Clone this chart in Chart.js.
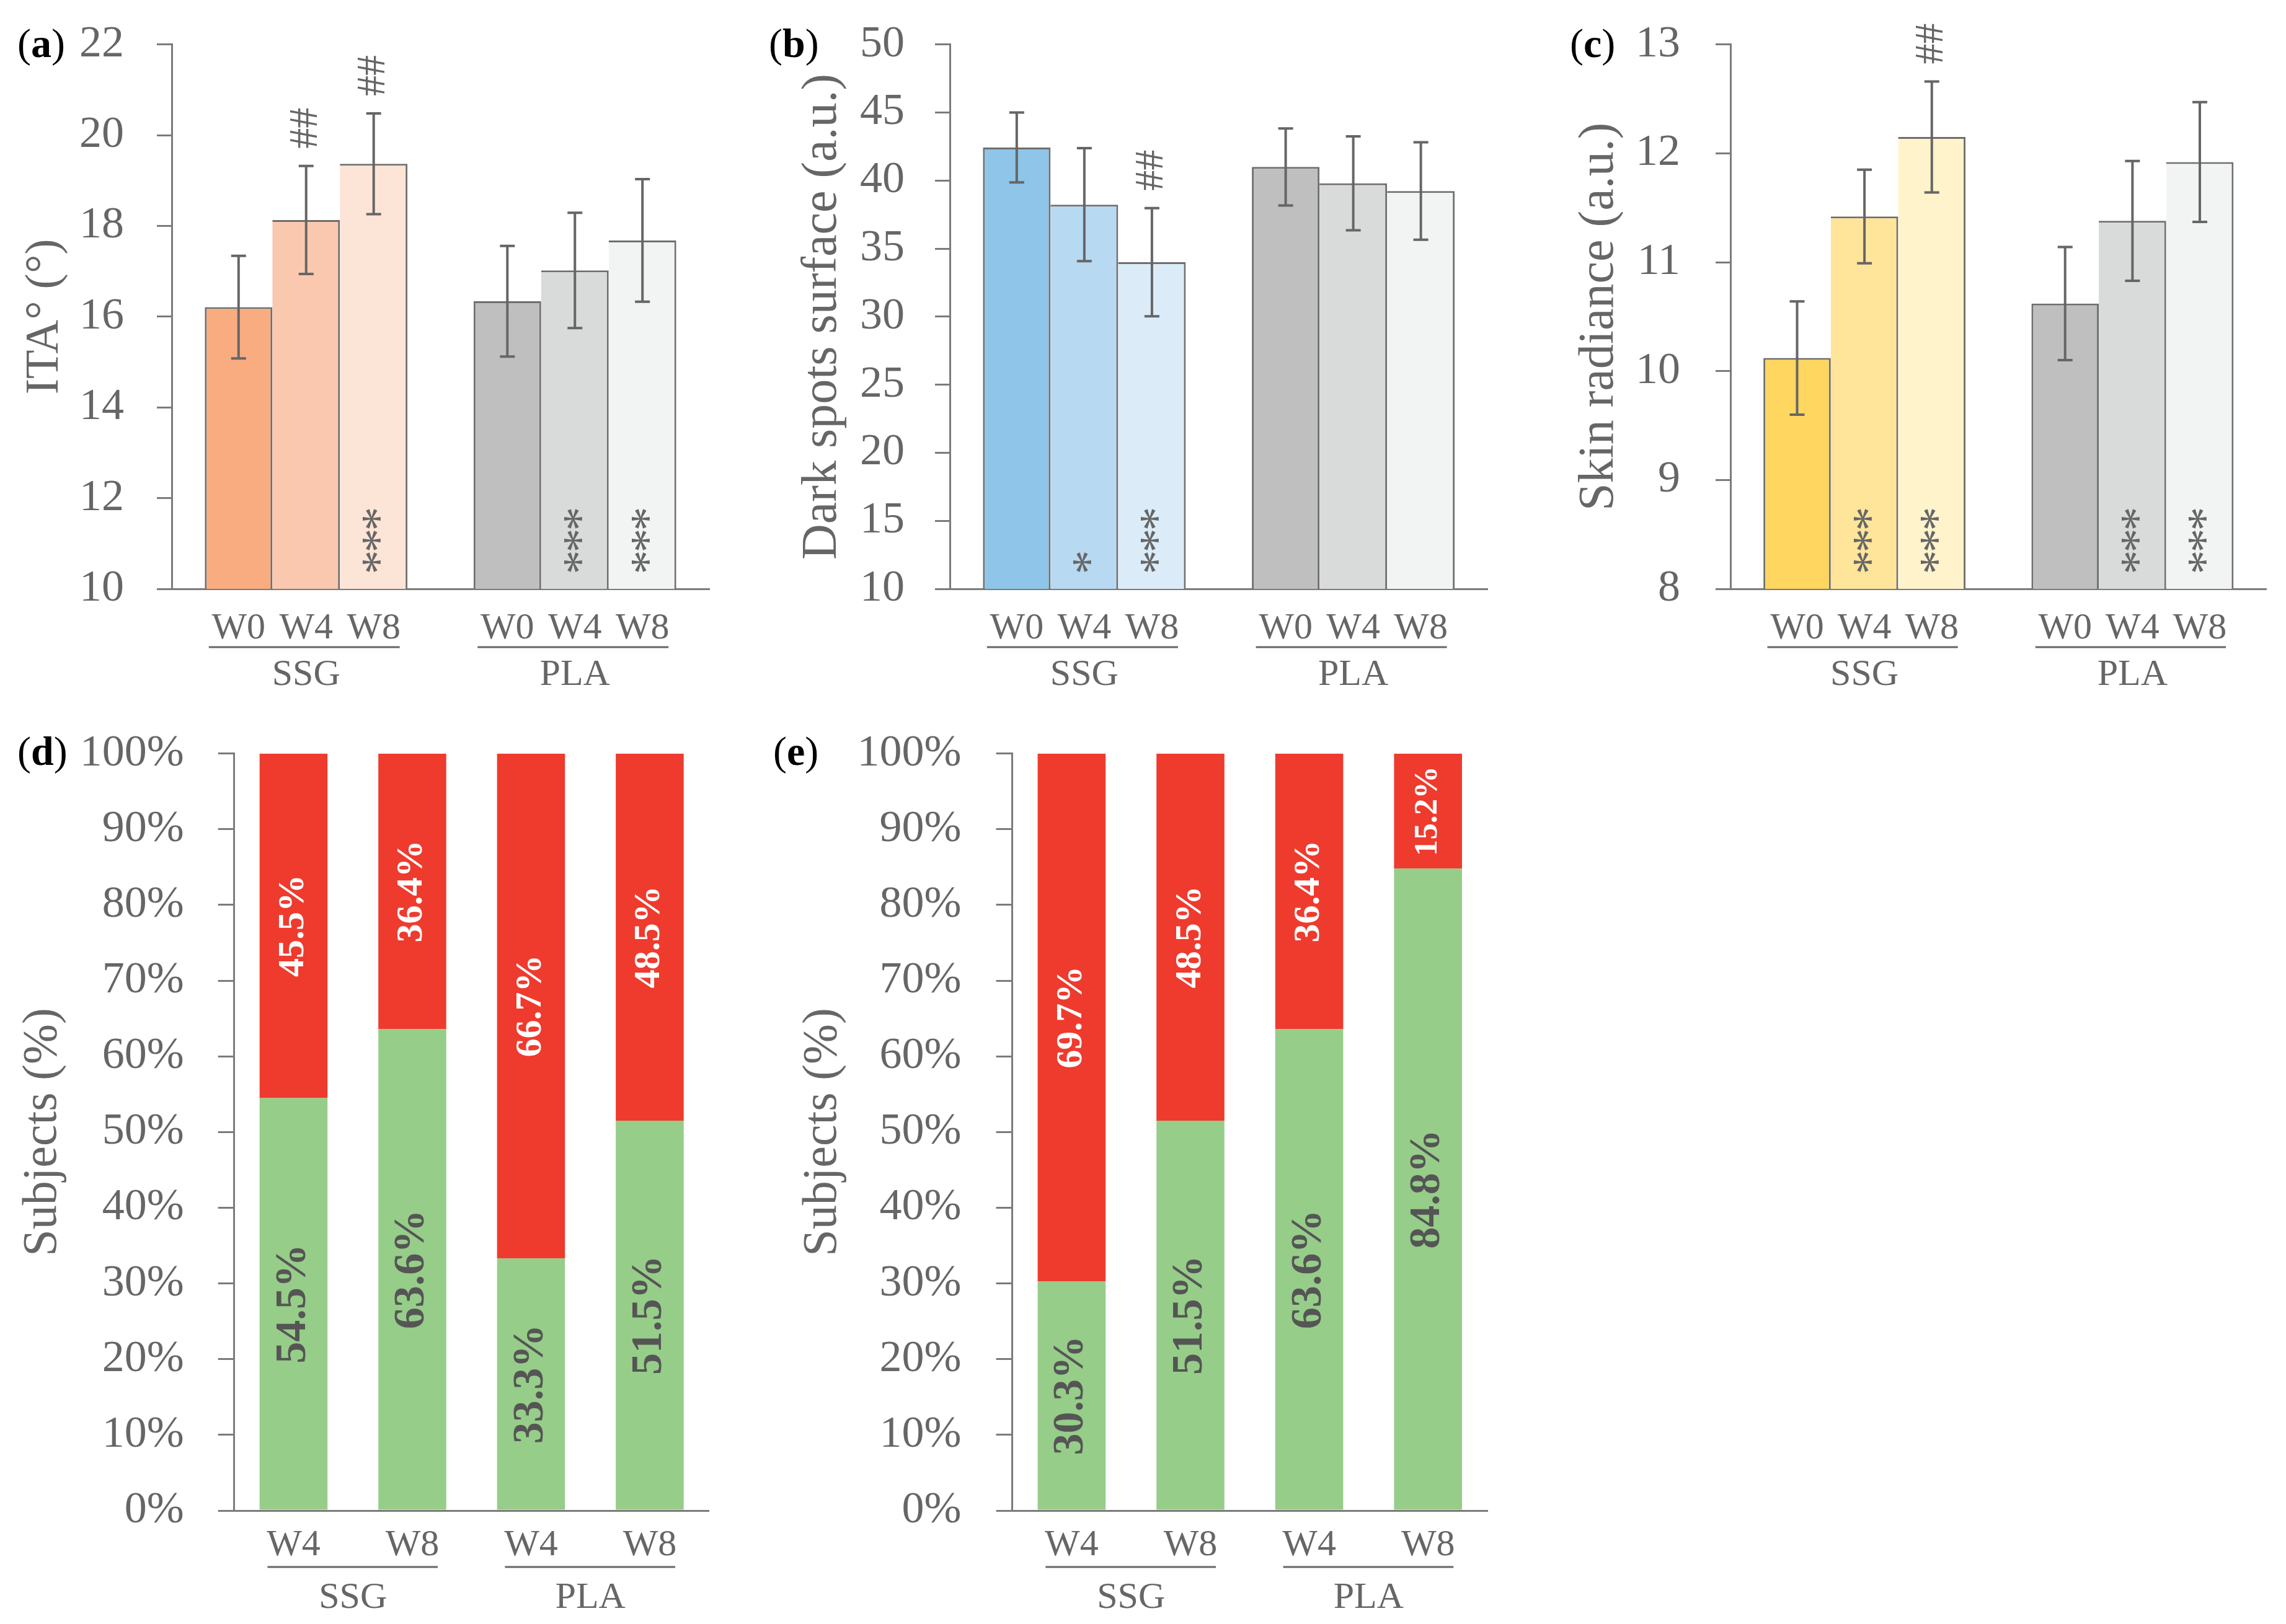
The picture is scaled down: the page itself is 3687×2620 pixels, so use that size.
<!DOCTYPE html>
<html><head><meta charset="utf-8">
<script src="https://cdn.jsdelivr.net/npm/chart.js@4.4.1/dist/chart.umd.min.js"></script>
<style>
html,body{margin:0;padding:0;background:#fff;}
#page{position:relative;width:3687px;height:2620px;background:#fff;overflow:hidden;}
canvas{position:absolute;}
</style></head><body><div id="page">
<canvas id="ca"></canvas><canvas id="cb"></canvas><canvas id="cc"></canvas>
<canvas id="cd"></canvas><canvas id="ce"></canvas>
</div>
<script>
// ---------- DATA ----------
const groups = ['SSG', 'PLA'];
const weeksTop = ['W0', 'W4', 'W8'];
const weeksBottom = ['W4', 'W8', 'W4', 'W8'];

// (a) ITA°
const itaSSG = [16.21, 18.13, 19.37];
const itaSSGErr = [1.13, 1.19, 1.11];
const itaPLA = [16.34, 17.02, 17.68];
const itaPLAErr = [1.22, 1.27, 1.35];
const itaTicks = { min: 10, max: 22, step: 2 };
const itaStarsSSG = ['', '', '***'];
const itaStarsPLA = ['', '***', '***'];
const itaHashSSG = ['', '##', '##'];

// (b) Dark spots surface
const spotSSG = [42.43, 38.23, 34.0];
const spotSSGErr = [2.57, 4.15, 3.97];
const spotPLA = [41.0, 39.8, 39.23];
const spotPLAErr = [2.83, 3.45, 3.58];
const spotTicks = { min: 10, max: 50, step: 5 };
const spotStarsSSG = ['', '*', '***'];
const spotStarsPLA = ['', '', ''];
const spotHashSSG = ['', '', '##'];

// (c) Skin radiance
const radSSG = [10.12, 11.42, 12.15];
const radSSGErr = [0.52, 0.43, 0.51];
const radPLA = [10.62, 11.38, 11.92];
const radPLAErr = [0.52, 0.55, 0.55];
const radTicks = { min: 8, max: 13, step: 1 };
const radStarsSSG = ['', '***', '***'];
const radStarsPLA = ['', '***', '***'];
const radHashSSG = ['', '', '##'];

// (d) and (e) subjects (%)
const dGreen = [54.5, 63.6, 33.3, 51.5];
const dRed = [45.5, 36.4, 66.7, 48.5];
const eGreen = [30.3, 51.5, 63.6, 84.8];
const eRed = [69.7, 48.5, 36.4, 15.2];

// ---------- STYLE ----------
const FONT = "'Liberation Serif', 'Times New Roman', serif";
const TXT = '#666666';
const AX = '#7b7b7b';
const BORDER = '#6e6e6e';
const PLA_COLORS = ['#BFBFBF', '#D9DADA', '#F2F3F3'];
const RED = '#EE3B2E';
const GREEN = '#96CD89';

function place(id, left, top, w, h) {
  const c = document.getElementById(id);
  c.style.left = left + 'px'; c.style.top = top + 'px';
  c.style.width = w + 'px'; c.style.height = h + 'px';
  c.width = w; c.height = h;
  return c;
}

function drawPanelLabel(ctx, letter, x, y) {
  ctx.save();
  ctx.fillStyle = '#000'; ctx.textBaseline = 'alphabetic'; ctx.textAlign = 'left';
  ctx.font = `66px ${FONT}`;
  ctx.fillText('(', x, y);
  let w = ctx.measureText('(').width;
  ctx.font = `bold 66px ${FONT}`;
  ctx.fillText(letter, x + w, y);
  w += ctx.measureText(letter).width;
  ctx.font = `66px ${FONT}`;
  ctx.fillText(')', x + w, y);
  ctx.restore();
}

function rotText(ctx, text, x, y, font, color, align, baseline) {
  ctx.save();
  ctx.translate(x, y);
  ctx.rotate(-Math.PI / 2);
  ctx.font = font; ctx.fillStyle = color;
  ctx.textAlign = align; ctx.textBaseline = baseline;
  ctx.fillText(text, 0, 0);
  ctx.restore();
}

function yAxisOpts(t, pad, titleText, titleSize, titlePad, leftW, tickLen, cb) {
  return {
    min: t.min, max: t.max,
    ticks: { stepSize: t.step, font: { family: FONT, size: 72 }, color: TXT, padding: pad,
             callback: cb || ((v) => v) },
    grid: { drawOnChartArea: false, drawTicks: true, tickLength: tickLen, color: AX, lineWidth: 3 },
    border: { display: true, color: AX, width: 3 },
    title: { display: true, text: titleText, color: TXT,
             font: { family: FONT, size: titleSize, lineHeight: 1.2 },
             padding: { top: titlePad, bottom: 0 } },
    afterFit: (s) => { s.width = leftW; s.paddingTop = 0; s.paddingBottom = 0; }
  };
}

function topChart(o) {
  const W = o.w, H = o.h;
  const canvas = place(o.id, o.left, o.top, W, H);
  const area = { left: o.areaL - o.left, right: o.areaR - o.left, top: o.areaT - o.top, bottom: o.areaB - o.top };
  const datasets = weeksTop.map((wk, k) => ({
    label: wk,
    data: [o.ssg[k], o.pla[k]],
    errs: [o.ssgErr[k], o.plaErr[k]],
    stars: [o.starsSSG[k], o.starsPLA[k]],
    hashes: [o.hashSSG[k], ''],
    backgroundColor: [o.ssgColors[k], PLA_COLORS[k]],
    borderColor: BORDER,
    borderWidth: k === 0 ? { top: 3, left: 3, right: 3, bottom: 0 } : { top: 3, left: 0, right: 3, bottom: 0 },
    borderSkipped: false,
    barPercentage: 1,
    categoryPercentage: 0.754
  }));
  const plugin = {
    id: 'deco' + o.id,
    afterDatasetsDraw(chart) {
      const ctx = chart.ctx, ys = chart.scales.y, ca = chart.chartArea;
      chart.data.datasets.forEach((ds, i) => {
        const meta = chart.getDatasetMeta(i);
        meta.data.forEach((el, j) => {
          const v = ds.data[j], e = ds.errs[j];
          const yt = ys.getPixelForValue(v + e), yb = ys.getPixelForValue(v - e);
          ctx.save();
          ctx.strokeStyle = '#666'; ctx.lineWidth = 4; ctx.lineCap = 'butt';
          ctx.beginPath();
          ctx.moveTo(el.x, yt); ctx.lineTo(el.x, yb);
          ctx.moveTo(el.x - 12, yt); ctx.lineTo(el.x + 12, yt);
          ctx.moveTo(el.x - 12, yb); ctx.lineTo(el.x + 12, yb);
          ctx.stroke();
          ctx.restore();
          const st = ds.stars[j];
          for (let n = 0; n < st.length; n++) {
            rotText(ctx, '*', el.x + 13, ca.bottom - 43 - n * 35, `78px ${FONT}`, '#666', 'center', 'middle');
          }
          if (ds.hashes[j]) rotText(ctx, ds.hashes[j], el.x, yt - 28, `66px ${FONT}`, '#666', 'left', 'middle');
        });
      });
    },
    afterDraw(chart) {
      const ctx = chart.ctx, ca = chart.chartArea, xs = chart.scales.x;
      ctx.save();
      ctx.fillStyle = TXT; ctx.textAlign = 'center'; ctx.textBaseline = 'alphabetic';
      ctx.font = `60px ${FONT}`;
      const metas = chart.data.datasets.map((d, i) => chart.getDatasetMeta(i));
      groups.forEach((g, j) => {
        metas.forEach((m, i) => ctx.fillText(weeksTop[i], m.data[j].x, ca.bottom + 80));
        const x1 = metas[0].data[j].x, x2 = metas[2].data[j].x;
        ctx.strokeStyle = TXT; ctx.lineWidth = 3;
        ctx.beginPath(); ctx.moveTo(x1 - 48, ca.bottom + 94); ctx.lineTo(x2 + 42, ca.bottom + 94); ctx.stroke();
        ctx.fillText(g, xs.getPixelForValue(j), ca.bottom + 155);
      });
      ctx.restore();
      drawPanelLabel(ctx, o.letter, o.labelX - o.left, o.labelY - o.top);
    }
  };
  return new Chart(canvas, {
    type: 'bar',
    data: { labels: groups, datasets },
    options: {
      responsive: false, animation: false, devicePixelRatio: 1,
      layout: { padding: { left: 0, top: area.top, right: W - area.right, bottom: 0 } },
      plugins: { legend: { display: false }, tooltip: { enabled: false } },
      scales: {
        x: { type: 'category', offset: true, grid: { display: false },
             border: { display: true, color: AX, width: 3 }, ticks: { display: false },
             afterFit: (s) => { s.height = H - area.bottom; } },
        y: yAxisOpts(o.ticks, o.tickPad, o.title, o.titleSize, o.titlePad, area.left, 24)
      }
    },
    plugins: [plugin]
  });
}

function bottomChart(o) {
  const W = o.w, H = o.h;
  const canvas = place(o.id, o.left, o.top, W, H);
  const area = { left: o.areaL - o.left, right: o.areaR - o.left, top: o.areaT - o.top, bottom: o.areaB - o.top };
  const datasets = [
    { label: 'green', data: o.green, backgroundColor: GREEN, textColor: '#555555', lblSize: 70, barPercentage: 0.572, categoryPercentage: 1 },
    { label: 'red', data: o.red, backgroundColor: RED, textColor: '#ffffff', lblSize: 60, barPercentage: 0.572, categoryPercentage: 1 }
  ];
  const plugin = {
    id: 'deco' + o.id,
    afterDatasetsDraw(chart) {
      const ctx = chart.ctx;
      chart.data.datasets.forEach((ds, i) => {
        chart.getDatasetMeta(i).data.forEach((el, j) => {
          const segH = Math.abs(el.base - el.y);
          const size = Math.min(ds.lblSize, segH * 0.78 / 2.75);
          const cy = (el.y + el.base) / 2;
          rotText(ctx, ds.data[j].toFixed(1) + '%', el.x, cy, `bold ${size.toFixed(1)}px ${FONT}`, ds.textColor, 'center', 'middle');
        });
      });
    },
    afterDraw(chart) {
      const ctx = chart.ctx, ca = chart.chartArea;
      const m = chart.getDatasetMeta(0).data;
      ctx.save();
      ctx.fillStyle = TXT; ctx.textAlign = 'center'; ctx.textBaseline = 'alphabetic';
      ctx.font = `60px ${FONT}`;
      m.forEach((el, j) => ctx.fillText(weeksBottom[j], el.x, ca.bottom + 72));
      groups.forEach((g, j) => {
        const x1 = m[2 * j].x, x2 = m[2 * j + 1].x;
        ctx.strokeStyle = TXT; ctx.lineWidth = 3;
        ctx.beginPath(); ctx.moveTo(x1 - 42, ca.bottom + 91); ctx.lineTo(x2 + 41, ca.bottom + 91); ctx.stroke();
        ctx.fillText(g, (x1 + x2) / 2, ca.bottom + 157);
      });
      ctx.restore();
      drawPanelLabel(ctx, o.letter, o.labelX - o.left, o.labelY - o.top);
    }
  };
  return new Chart(canvas, {
    type: 'bar',
    data: { labels: weeksBottom, datasets },
    options: {
      responsive: false, animation: false, devicePixelRatio: 1,
      layout: { padding: { left: 0, top: area.top, right: W - area.right, bottom: 0 } },
      plugins: { legend: { display: false }, tooltip: { enabled: false } },
      scales: {
        x: { type: 'category', offset: true, stacked: true, grid: { display: false },
             border: { display: true, color: AX, width: 3 }, ticks: { display: false },
             afterFit: (s) => { s.height = H - area.bottom; } },
        y: Object.assign(yAxisOpts({ min: 0, max: 100, step: 10 }, o.tickPad, 'Subjects (%)', 78, o.titlePad, area.left, 26, (v) => v + '%'), { stacked: true })
      }
    },
    plugins: [plugin]
  });
}

topChart({ id: 'ca', left: 0, top: 0, w: 1200, h: 1130, areaL: 277, areaR: 1144, areaT: 71.7, areaB: 950,
  ssg: itaSSG, ssgErr: itaSSGErr, pla: itaPLA, plaErr: itaPLAErr, ticks: itaTicks,
  starsSSG: itaStarsSSG, starsPLA: itaStarsPLA, hashSSG: itaHashSSG,
  ssgColors: ['#F8AC80', '#F9C8AF', '#FCE4D6'], title: 'ITA° (°)', titleSize: 76, titlePad: 27, tickPad: 53,
  letter: 'a', labelX: 28, labelY: 92 });

topChart({ id: 'cb', left: 1200, top: 0, w: 1260, h: 1130, areaL: 1532, areaR: 2399.5, areaT: 71.7, areaB: 950,
  ssg: spotSSG, ssgErr: spotSSGErr, pla: spotPLA, plaErr: spotPLAErr, ticks: spotTicks,
  starsSSG: spotStarsSSG, starsPLA: spotStarsPLA, hashSSG: spotHashSSG,
  ssgColors: ['#8EC5E9', '#B7D9F1', '#DBECF8'], title: 'Dark spots surface (a.u.)', titleSize: 80, titlePad: 79, tickPad: 49,
  letter: 'b', labelX: 1240, labelY: 92 });

topChart({ id: 'cc', left: 2460, top: 0, w: 1227, h: 1130, areaL: 2791, areaR: 3655.5, areaT: 71.7, areaB: 950,
  ssg: radSSG, ssgErr: radSSGErr, pla: radPLA, plaErr: radPLAErr, ticks: radTicks,
  starsSSG: radStarsSSG, starsPLA: radStarsPLA, hashSSG: radHashSSG,
  ssgColors: ['#FFD65F', '#FFE59A', '#FFF3CC'], title: 'Skin radiance (a.u.)', titleSize: 80, titlePad: 72, tickPad: 57,
  letter: 'c', labelX: 2532, labelY: 92 });

bottomChart({ id: 'cd', left: 0, top: 1150, w: 1250, h: 1470, areaL: 377.7, areaR: 1143.7, areaT: 1215.7, areaB: 2437,
  green: dGreen, red: dRed, tickPad: 55, titlePad: 23, letter: 'd', labelX: 28, labelY: 1234 });

bottomChart({ id: 'ce', left: 1240, top: 1150, w: 1260, h: 1470, areaL: 1632.6, areaR: 2399, areaT: 1215.7, areaB: 2437,
  green: eGreen, red: eRed, tickPad: 56, titlePad: 41, letter: 'e', labelX: 1247, labelY: 1234 });
</script>
</body></html>
